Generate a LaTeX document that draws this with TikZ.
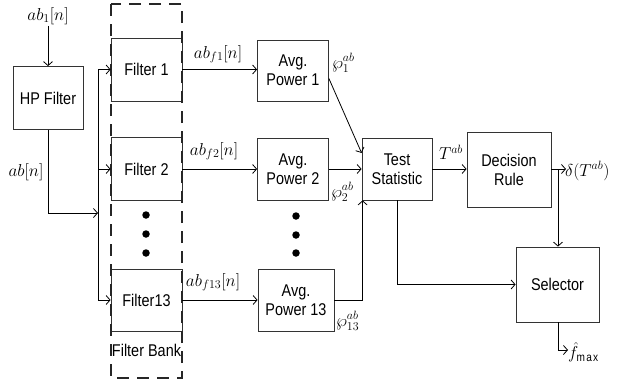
\documentclass[tikz,border=0pt]{standalone}
\usepackage{fontspec}
\setmainfont[FakeStretch=0.85]{Liberation Sans}
\usetikzlibrary{arrows.meta}
\tikzset{
  blk/.style={draw=black!80, line width=0.8pt, fill=white, align=center, inner sep=0pt,
    font=\fontsize{17}{19}\selectfont},
  lbl/.style={inner sep=1pt, font=\fontsize{17}{19}\selectfont},
  wire/.style={line width=0.8pt},
  arr/.style={wire, -{Straight Barb[length=4pt,width=9pt]}},
  bigdot/.style={circle, fill=black, inner sep=0pt, minimum size=7.5pt},
  bank/.style={draw=black!85, line width=2.4pt, dash pattern=on 12pt off 8pt}
}
\begin{document}
\begin{tikzpicture}[x=1pt,y=-1pt]
\useasboundingbox (0,0) rectangle (621,388);
% blocks
\node[blk, minimum width=70, minimum height=63] (hp) at (48,98) {HP Filter};
\node[blk, minimum width=71, minimum height=63] (f1) at (146.5,69.5) {Filter 1};
\node[blk, minimum width=71, minimum height=63] (f2) at (146.5,169) {Filter 2};
\node[blk, minimum width=71, minimum height=62] (f13) at (146.5,300) {Filter13};
\node[blk, minimum width=71, minimum height=61] (ap1) at (293,70.5) {Avg.\\Power 1};
\node[blk, minimum width=71, minimum height=62] (ap2) at (293,169) {Avg.\\Power 2};
\node[blk, minimum width=76, minimum height=62] (ap13) at (296,300) {Avg.\\Power 13};
\node[blk, minimum width=70, minimum height=62] (ts) at (397,169) {Test\\Statistic};
\node[blk, minimum width=84, minimum height=75] (dr) at (509,169.5) {Decision\\Rule};
\node[blk, minimum width=83, minimum height=75] (sel) at (557.5,284.5) {Selector};
% filter bank frame
\node[lbl, font=\fontsize{17}{19}\selectfont] (fbk) at (146.5,350) {Filter Bank};
\draw[bank] (111,4) rectangle (182,378);
% dots
\node[bigdot] (d1) at (146,215) {};
\node[bigdot] (d2) at (146,234) {};
\node[bigdot] (d3) at (146,253) {};
\node[bigdot] (e1) at (296,216) {};
\node[bigdot] (e2) at (296,235) {};
\node[bigdot] (e3) at (296,253) {};
% input
\node[lbl] (in1) at (48,16) {$ab_1[n]$};
\draw[arr] (in1.south) -- (hp.north);
\node[lbl] (abn) at (26,172) {$ab[n]$};
\coordinate (bj) at (98,213);
\coordinate (bt) at (98,69.5);
\coordinate (b2) at (98,169);
\coordinate (bb) at (98,300);
\draw[wire] (bt) -- (bb);
\draw[arr] (hp.south) |- (bj);
\draw[arr] (bt) -- (f1.west);
\draw[arr] (b2) -- (f2.west);
\draw[arr] (bb) -- (f13.west);
% filter outputs
\draw[arr] (f1.east) -- (ap1.west |- f1.east);
\draw[arr] (f2.east) -- (ap2.west);
\draw[arr] (f13.east) -- (ap13.west);
\node[lbl] (lf1) at (218,54) {$ab_{f1}[n]$};
\node[lbl] (lf2) at (214,151) {$ab_{f2}[n]$};
\node[lbl] (lf13) at (213,282) {$ab_{f13}[n]$};
% powers to test statistic
\draw[arr] ([yshift=-8pt]ap1.east) -- ([yshift=16pt]ts.west);
\draw[arr] (ap2.east) -- (ts.west);
\draw[arr] (ap13.east) -| ([xshift=1pt]ts.south west);
\node[lbl, anchor=west] (p1) at (331,63) {$\wp_1^{ab}$};
\node[lbl, anchor=west] (p2) at (330,192) {$\wp_2^{ab}$};
\node[lbl, anchor=west] (p13) at (335,321) {$\wp_{13}^{ab}$};
% test statistic to decision
\draw[arr] (ts.east) -- (dr.west |- ts.east);
\node[lbl] (tab) at (451,152) {$T^{ab}$};
\coordinate (dout) at (566,169);
\coordinate (br) at (558,169);
\draw[arr] (dr.east |- ts.east) -- (dout);
\node[lbl, anchor=west] (dl) at (564,171) {$\delta(T^{ab})$};
\draw[arr] (br) -- (sel.north -| br);
\draw[arr] (ts.south) |- (sel.west);
\coordinate (sb) at (558,350);
\coordinate (so) at (568,350);
\draw[arr] (sel.south -| sb) -- (sb) -- (so);
\node[lbl, anchor=west] (fm) at (567,352) {$\hat f_{\max}$};
\end{tikzpicture}
\end{document}
